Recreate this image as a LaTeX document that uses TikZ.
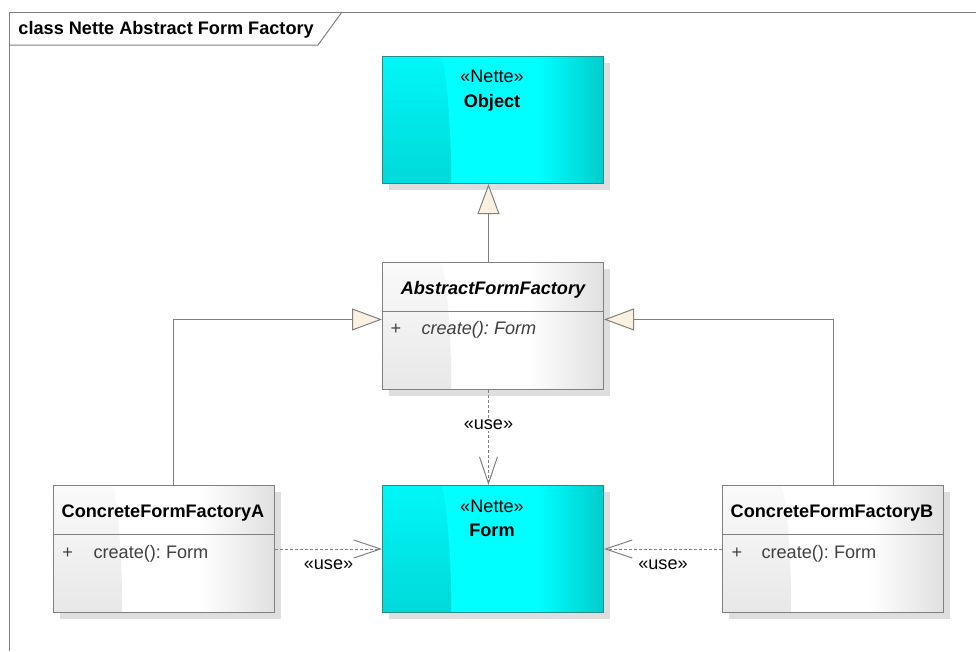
\documentclass[tikz,border=0pt]{standalone}
\usepackage{fontspec}
\setmainfont{Liberation Sans}
\usetikzlibrary{arrows.meta,shadows}

\definecolor{netteCyan}{RGB}{0,255,255}
\definecolor{netteCyanDark}{RGB}{0,204,204}
\definecolor{netteBorder}{RGB}{40,140,140}
\definecolor{classGrey}{RGB}{224,224,224}
\definecolor{lineGrey}{RGB}{128,128,128}
\definecolor{genFill}{RGB}{252,241,224}
\definecolor{shadowGrey}{RGB}{222,222,222}
\definecolor{opGrey}{RGB}{64,64,64}

\pgfdeclarehorizontalshading{classshade}{100bp}{color(0bp)=(white); color(25bp)=(white); color(58bp)=(white); color(75bp)=(classGrey); color(100bp)=(classGrey)}
\pgfdeclarehorizontalshading{netteshade}{100bp}{color(0bp)=(netteCyan); color(25bp)=(netteCyan); color(60bp)=(netteCyan); color(75bp)=(netteCyanDark); color(100bp)=(netteCyanDark)}

\tikzset{every picture/.style={line width=0.75pt}}
\tikzset{
  gloss/.style 2 args={path picture={
    \shade[top color=#1, bottom color=#2]
      (path picture bounding box.south west) -- ([xshift=48.75pt]path picture bounding box.south west)
      .. controls ([xshift=55pt,yshift=-40pt]path picture bounding box.south west)
      and ([xshift=50pt,yshift=25pt]path picture bounding box.north west)
      .. ([xshift=40pt]path picture bounding box.north west) -- (path picture bounding box.north west) -- cycle;}},
  classbox/.style={draw=lineGrey, anchor=north west, inner sep=0pt,
    minimum width=165.75pt, minimum height=95.25pt, shading=classshade,
    drop shadow={shadow xshift=4.5pt, shadow yshift=-4.5pt, fill=shadowGrey, opacity=1},
    gloss={white}{classGrey}},
  cyanbox/.style={classbox, draw=netteBorder, shading=netteshade,
    gloss={netteCyan}{netteCyanDark}},
  txt/.style={inner sep=0pt},
  optxt/.style={inner sep=0pt, anchor=base west, text=opGrey},
  uselabel/.style={fill=white, inner sep=1pt, text=black},
  gen/.style={color=lineGrey, -{Triangle[length=22.5pt, width=16.5pt, fill=genFill]}},
  dep/.style={color=lineGrey, dash pattern=on 2.25pt off 1.5pt, -{Straight Barb[length=20pt, width=13.5pt]}}
}

\begin{document}
\begin{tikzpicture}[x=0.75pt,y=0.75pt,yscale=-1,xscale=1,font=\fontsize{13.6pt}{16pt}\selectfont\frenchspacing]
\path [use as bounding box] (0,0) rectangle (976,651);

%Frame
\draw [color=lineGrey] (976,12) -- (9,12) -- (9,651) ;
\draw [color=lineGrey] (9,45) -- (318,45) -- (342,12) ;
% Text Node
\draw (18,34) node [txt, anchor=base west] (frameTitle) {\bfseries class Nette Abstract Form Factory};

%Shape: Rectangle
\draw (382,56) node [cyanbox] (obj) {};
%Shape: Rectangle
\draw (382,262) node [classbox] (aff) {};
%Shape: Rectangle
\draw (382,485) node [cyanbox] (form) {};
%Shape: Rectangle
\draw (53,485) node [classbox] (cfa) {};
%Shape: Rectangle
\draw (722,485) node [classbox] (cfb) {};

%Straight Lines
\draw [color=lineGrey] ([yshift=36.75pt]aff.north west) -- ([yshift=36.75pt]aff.north east) ;
\draw [color=lineGrey] ([yshift=36.75pt]cfa.north west) -- ([yshift=36.75pt]cfa.north east) ;
\draw [color=lineGrey] ([yshift=36.75pt]cfb.north west) -- ([yshift=36.75pt]cfb.north east) ;

% Text Node
\draw (492,82) node [txt, anchor=base] (objStereo) {«Nette»};
\draw (492,107) node [txt, anchor=base] (objName) {\bfseries Object};
% Text Node
\draw (493,294) node [txt, anchor=base] (affName) {\bfseries\itshape AbstractFormFactory};
\draw (390,334) node [optxt] (affVis) {+};
\draw (421,334) node [optxt] (affOp) {\itshape create(): Form};
% Text Node
\draw (492,512) node [txt, anchor=base] (formStereo) {«Nette»};
\draw (492,536) node [txt, anchor=base] (formName) {\bfseries Form};
% Text Node
\draw (163,517) node [txt, anchor=base] (cfaName) {\bfseries ConcreteFormFactoryA};
\draw (62,558) node [optxt] (cfaVis) {+};
\draw (93,558) node [optxt] (cfaOp) {create(): Form};
% Text Node
\draw (832,517) node [txt, anchor=base] (cfbName) {\bfseries ConcreteFormFactoryB};
\draw (731,558) node [optxt] (cfbVis) {+};
\draw (761,558) node [optxt] (cfbOp) {create(): Form};

%Generalization
\draw [gen] ([xshift=7.1pt]cfa.north) |- ([yshift=-4.9pt]aff.west) ;
\draw [gen] (cfb.north) |- ([yshift=-4.9pt]aff.east) ;
\draw [gen] ([xshift=-3.4pt]aff.north) -- ([xshift=-3.4pt]obj.south) ;

%Dependency
\draw [dep] ([xshift=-3.4pt]aff.south) -- node [uselabel, pos=0.37] (useTop) {«use»} ([xshift=-3.4pt]form.north) ;
\draw [dep] (cfa.east) -- node [uselabel, below=7pt] (useLeft) {«use»} (form.west) ;
\draw [dep] (cfb.west) -- node [uselabel, below=7pt] (useRight) {«use»} (form.east) ;
\end{tikzpicture}
\end{document}
